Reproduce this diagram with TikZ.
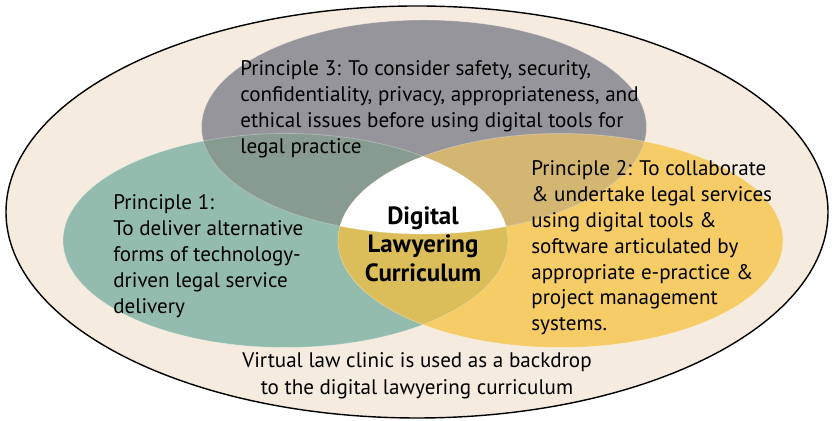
\documentclass[tikz,border=0pt]{standalone}
\usepackage{fontspec}
\setmainfont{PT Sans}

\definecolor{clinicbg}{HTML}{F5EBDF}
\definecolor{p1green}{HTML}{93BCAF}
\definecolor{p2yellow}{HTML}{F5CC66}
\definecolor{p3gray}{HTML}{97959C}
\definecolor{p13mix}{HTML}{879B90}
\definecolor{p23mix}{HTML}{D4B673}
\definecolor{p12mix}{HTML}{DBBD5A}

\tikzset{
  lobe/.style={x radius=222.5, y radius=107},
  principle/.style={anchor=north west, inner sep=0pt, align=left,
    font=\fontsize{12}{14.75}\selectfont},
}

\begin{document}
\begin{tikzpicture}[x=0.02cm,y=0.02cm]
\useasboundingbox (0,0) rectangle (835,421);

% virtual law clinic backdrop
\filldraw[thick,fill=clinicbg] (417,209) ellipse [x radius=411, y radius=206];

\coordinate (ethics) at (424,294);
\coordinate (delivery) at (285.5,180.5);
\coordinate (collab) at (560.5,180.5);

\fill[p1green] (delivery) ellipse [lobe];
\fill[p2yellow] (collab) ellipse [lobe];
\fill[p3gray] (ethics) ellipse [lobe];

\begin{scope}
  \clip (collab) ellipse [lobe];
  \fill[p23mix] (ethics) ellipse [lobe];
\end{scope}
\begin{scope}
  \clip (delivery) ellipse [lobe];
  \fill[p13mix] (ethics) ellipse [lobe];
  \fill[p12mix] (collab) ellipse [lobe];
  \clip (collab) ellipse [lobe];
  \fill[white] (ethics) ellipse [lobe];
\end{scope}

\foreach \c in {ethics,delivery,collab} {
  \draw[white,opacity=0.3,line width=0.4pt] (\c) ellipse [lobe];
}

\node[principle] (p3text) at (240,361) {Principle 3: To consider safety, security,\\
  confidentiality, privacy, appropriateness, and\\
  ethical issues before using digital tools for\\
  legal practice};

\node[principle] (p1text) at (113,227) {Principle 1:\\
  To deliver alternative\\
  forms of technology-\\
  driven legal service\\
  delivery};

\node[principle] (p2text) at (531,261) {Principle 2: To collaborate\\
  \& undertake legal services\\
  using digital tools \&\\
  software articulated by\\
  appropriate e-practice \&\\
  project management\\
  systems.};

\node[anchor=north, inner sep=0pt, align=center,
  font=\fontsize{14.2}{16.4}\selectfont\bfseries] (core) at (423,215)
  {Digital\\ Lawyering\\ Curriculum};

\node[anchor=north, inner sep=0pt, align=center,
  font=\fontsize{12}{15.3}\selectfont] (backdrop) at (417,69)
  {Virtual law clinic is used as a backdrop\\
  to the digital lawyering curriculum};

\end{tikzpicture}
\end{document}
